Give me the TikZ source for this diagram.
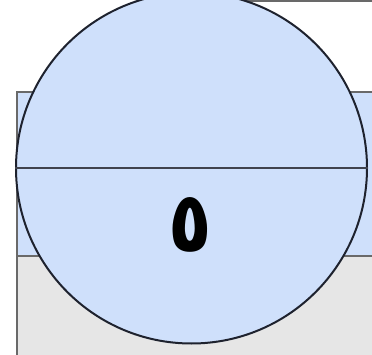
\documentclass[tikz,border=0pt]{standalone}
\usepackage{fontspec}
\usepackage{xcolor}
\usepackage{tikz}
\usetikzlibrary{positioning}
\newfontfamily\arabicfont[Script=Arabic]{DejaVu Sans}
\definecolor{diskblue}{RGB}{207,224,251}
\definecolor{boxgrey}{RGB}{230,230,230}
\definecolor{edgegrey}{RGB}{105,105,105}
\definecolor{inkdark}{RGB}{30,34,46}

\begin{document}
\begin{tikzpicture}[x=1pt,y=-1pt]
  \useasboundingbox (0,0) rectangle (372,355);
  \clip (0,0) rectangle (372,355);
  % boxes behind the disk
  \draw[edgegrey,line width=1.4pt] (143,1) -- (380,1);
  \draw[edgegrey,line width=1.4pt,fill=diskblue] (17,92) rectangle (380,256);
  \draw[edgegrey,line width=1.4pt,fill=boxgrey] (17,256) rectangle (380,370);
  % disk with its diameter
  \node[circle,draw=inkdark,line width=2pt,fill=diskblue,minimum size=351pt,inner sep=0pt] (disk) at (191.5,168) {};
  \draw[inkdark!85,line width=2.4pt] (disk.west) -- (disk.east);
  % digit in the lower half
  \node[font=\arabicfont\bfseries\fontsize{84}{86}\selectfont,xscale=0.85] (five) at (190,225) {\char"0665};
\end{tikzpicture}
\end{document}
